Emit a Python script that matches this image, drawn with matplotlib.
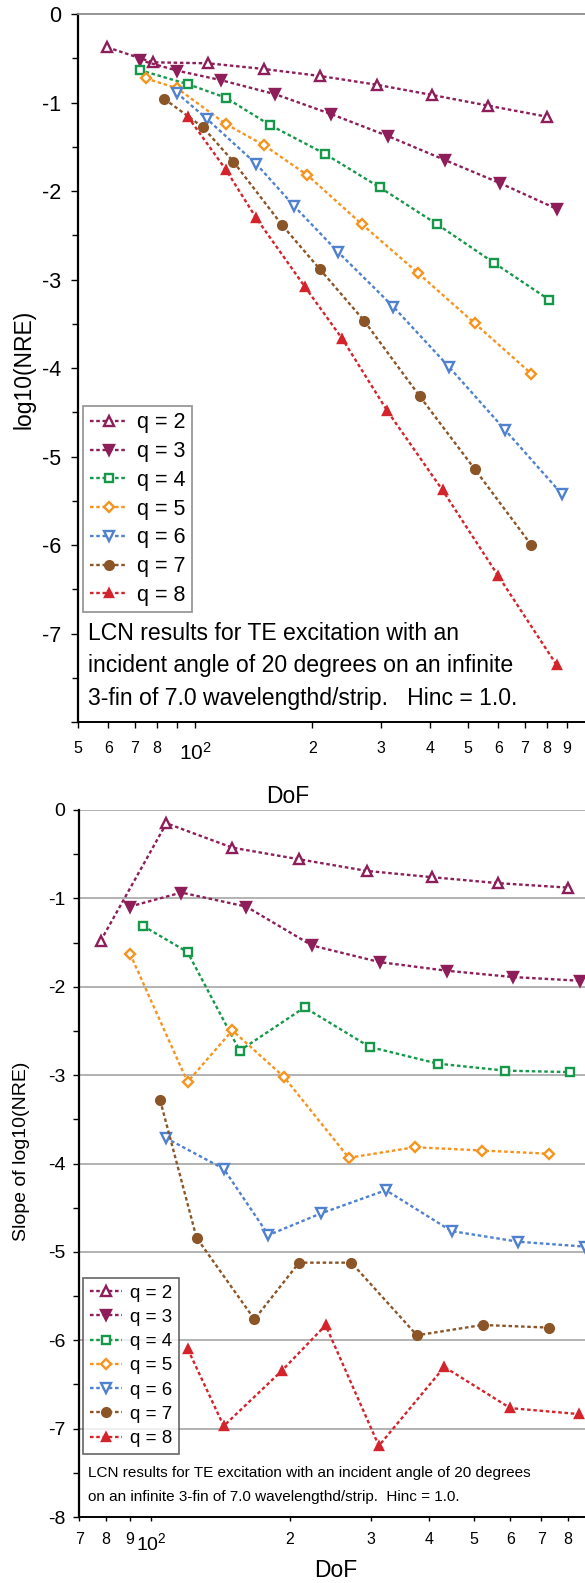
import matplotlib
matplotlib.use('Agg')
import matplotlib.pyplot as plt
from matplotlib.ticker import FixedLocator

plt.rcParams['font.family'] = ['Liberation Sans', 'DejaVu Sans']
plt.rcParams['axes.unicode_minus'] = False
plt.rcParams['mathtext.fontset'] = 'custom'
plt.rcParams['mathtext.rm'] = 'Liberation Sans'
plt.rcParams['mathtext.default'] = 'regular'

# ---------------- data ----------------
labels = ['q = 2', 'q = 3', 'q = 4', 'q = 5', 'q = 6', 'q = 7', 'q = 8']

dof_q2 = [59.6, 77.85, 108, 150, 209, 293, 405.5, 565, 798]
dof_q3 = [72.1, 90.0, 116.3, 160.8, 223.2, 312.5, 437.4, 607, 847]
dof_q4 = [72.1, 96.1, 120, 155.6, 215, 297.5, 417.8, 583.5, 807.5]
dof_q5 = [74.8, 90.1, 120, 150, 194, 268, 372.4, 521.5, 728.5]
dof_q6 = [89.8, 107.6, 143.7, 179.6, 233.2, 322.5, 447.5, 624, 872]
dof_q7 = [83.5, 104.7, 125.5, 167.5, 209.2, 271.5, 376.5, 522, 728.5]
dof_q8 = [95.9, 120.2, 143.7, 191.8, 238.8, 311.4, 431.5, 599.5, 846]

nre_q2 = [-0.376, -0.546, -0.557, -0.621, -0.70, -0.80, -0.915, -1.036, -1.16]
nre_q3 = [-0.52, -0.64, -0.746, -0.907, -1.13, -1.379, -1.65, -1.913, -2.203]
nre_q4 = [-0.633, -0.794, -0.946, -1.254, -1.578, -1.958, -2.376, -2.81, -3.226]
nre_q5 = [-0.727, -0.84, -1.243, -1.48, -1.819, -2.376, -2.923, -3.495, -4.065]
nre_q6 = [-0.89, -1.19, -1.695, -2.17, -2.693, -3.307, -3.985, -4.70, -5.424]
nre_q7 = [-0.96, -1.277, -1.669, -2.388, -2.885, -3.466, -4.316, -5.145, -6.0]
nre_q8 = [-1.16, -1.763, -2.308, -3.088, -3.672, -4.486, -5.382, -6.35, -7.356]

# slopes are plotted at the upper DoF of each pair (dof[1:])
slope_q2 = [-1.48, -0.150, -0.426, -0.557, -0.689, -0.760, -0.828, -0.878]
slope_q3 = [-1.093, -0.934, -1.093, -1.533, -1.721, -1.819, -1.890, -1.932]
slope_q4 = [-1.311, -1.608, -2.723, -2.234, -2.681, -2.870, -2.949, -2.966]
slope_q5 = [-1.627, -3.077, -2.494, -3.02, -3.935, -3.816, -3.853, -3.890]
slope_q6 = [-3.71, -4.06, -4.81, -4.565, -4.302, -4.765, -4.885, -4.941]
slope_q7 = [-3.285, -4.84, -5.763, -5.122, -5.122, -5.944, -5.827, -5.857]
slope_q8 = [-6.102, -6.97, -6.347, -5.83, -7.194, -6.302, -6.768, -6.836]

dofs = [dof_q2, dof_q3, dof_q4, dof_q5, dof_q6, dof_q7, dof_q8]
nres = [nre_q2, nre_q3, nre_q4, nre_q5, nre_q6, nre_q7, nre_q8]
slopes = [slope_q2, slope_q3, slope_q4, slope_q5, slope_q6, slope_q7, slope_q8]

colors = ['#8D1E5A', '#8D1E5A', '#16984A', '#F7941D', '#4F81CF', '#8B5527', '#D4232B']
markers = ['^', 'v', 's', 'D', 'v', 'o', '^']
filled = [False, True, False, False, False, True, True]
msizes = [6.8, 6.8, 6.0, 5.4, 6.8, 6.3, 6.3]

top_minor = [50, 60, 70, 80, 90, 200, 300, 400, 500, 600, 700, 800, 900]
top_minor_lbl = ['5', '6', '7', '8', '', '2', '3', '4', '5', '6', '7', '8', '9']
bot_minor = [70, 80, 90, 200, 300, 400, 500, 600, 700, 800]
bot_minor_lbl = ['7', '8', '9', '2', '3', '4', '5', '6', '7', '8']

text_top = ['LCN results for TE excitation with an',
            'incident angle of 20 degrees on an infinite',
            '3-fin of 7.0 wavelengthd/strip.   Hinc = 1.0.']
text_bot = ['LCN results for TE excitation with an incident angle of 20 degrees',
            'on an infinite 3-fin of 7.0 wavelengthd/strip.  Hinc = 1.0.']

# ---------------- figure ----------------
W, H = 585, 1583
fig = plt.figure(figsize=(W / 100, H / 100), dpi=100)

ax1 = fig.add_axes([77.5 / W, 1 - 722 / H, (W - 77.5) / W, (722 - 14) / H])
ax2 = fig.add_axes([79.4 / W, 1 - 1517 / H, (W - 79.4) / W, (1517 - 810) / H])

LW = 1.7
DASH = (0, (1.5, 1.15))


def draw(ax, xs_list, ys_list):
    handles = []
    for xs, ys, c, m, f, ms, lab in zip(xs_list, ys_list, colors, markers, filled, msizes, labels):
        h, = ax.plot(xs, ys, color=c, lw=LW, linestyle=DASH, dash_capstyle='butt',
                     marker=m, ms=ms, mec=c, mfc=(c if f else 'white'), mew=1.7,
                     label=lab, clip_on=False, zorder=3)
        handles.append(h)
    return handles


h1 = draw(ax1, dofs, nres)
h2 = draw(ax2, [d[1:] for d in dofs], slopes)

for ax in (ax1, ax2):
    ax.set_xscale('log')
    ax.set_ylim(-8, 0)
    ax.spines['right'].set_visible(False)
    ax.spines['left'].set_linewidth(1.6)
    ax.spines['bottom'].set_linewidth(1.4)
    ax.yaxis.set_major_locator(FixedLocator(list(range(-8, 1))))
    ax.yaxis.set_minor_locator(FixedLocator([v + 0.5 for v in range(-8, 0)]))
    ax.tick_params(axis='y', which='minor', length=4, width=1.0, direction='out')

# top axes
ax1.set_xlim(50, 1000)
ax1.spines['top'].set_color('#8C8C8C')
ax1.spines['top'].set_linewidth(1.3)
ax1.set_xticks([100], labels=['$10^2$'])
ax1.set_xticks(top_minor, labels=top_minor_lbl, minor=True)
ax1.set_yticklabels(['', '-7', '-6', '-5', '-4', '-3', '-2', '-1', '0'])
ax1.tick_params(axis='y', which='major', labelsize=15.5, length=5, width=1.0, pad=7)
ax1.tick_params(axis='x', which='major', labelsize=15, length=4, width=1.0, pad=10)
ax1.tick_params(axis='x', which='minor', labelsize=11.5, length=4, width=1.0, pad=10)

# bottom axes
ax2.set_xlim(70, 870)
ax2.spines['top'].set_visible(False)
ax2.set_xticks([100], labels=['$10^2$'])
ax2.set_xticks(bot_minor, labels=bot_minor_lbl, minor=True)
ax2.set_yticklabels(['-8', '-7', '-6', '-5', '-4', '-3', '-2', '-1', '0'])
ax2.tick_params(axis='y', which='major', labelsize=14, length=4, width=1.0, pad=6)
ax2.tick_params(axis='x', which='major', labelsize=14, length=3, width=1.0, pad=8)
ax2.tick_params(axis='x', which='minor', labelsize=11.5, length=3, width=1.0, pad=8)
for v in range(-7, 1):
    ax2.axhline(v, color='#A6A6A6', lw=1.2, zorder=1)

# legends
leg1 = ax1.legend(handles=h1, loc='upper left', bbox_to_anchor=(83.3 / W, 1 - 406 / H),
                  bbox_transform=fig.transFigure, fontsize=15.5, frameon=True, fancybox=False,
                  borderpad=0.3, labelspacing=0.36, handlelength=1.75, handletextpad=0.45,
                  borderaxespad=0)
leg1.get_frame().set_edgecolor('#7F7F7F')
leg1.get_frame().set_linewidth(1.3)
leg2 = ax2.legend(handles=h2, loc='upper left', bbox_to_anchor=(83.3 / W, 1 - 1278 / H),
                  bbox_transform=fig.transFigure, fontsize=13.5, frameon=True, fancybox=False,
                  borderpad=0.35, labelspacing=0.38, handlelength=1.7, handletextpad=0.45,
                  borderaxespad=0)
leg2.get_frame().set_edgecolor('#404040')
leg2.get_frame().set_linewidth(1.2)

# axis labels
fig.text(24 / W, 1 - 369 / H, 'log10(NRE)', rotation=90, ha='center', va='center', fontsize=16.5)
fig.text(22 / W, 1 - 1151 / H, 'Slope of log10(NRE)', rotation=90, ha='center', va='center', fontsize=14)
fig.text(288 / W, 1 - 803 / H, 'DoF', ha='center', va='baseline', fontsize=16.5)
fig.text(336 / W, 1 - 1577 / H, 'DoF', ha='center', va='baseline', fontsize=16.5)

# annotations
for ln, yb in zip(text_top, [640, 672, 705]):
    fig.text(88 / W, 1 - yb / H, ln, ha='left', va='baseline', fontsize=16.6)
for ln, yb in zip(text_bot, [1477, 1501.5]):
    fig.text(88 / W, 1 - yb / H, ln, ha='left', va='baseline', fontsize=11)

fig.savefig('out.png', dpi=100)
